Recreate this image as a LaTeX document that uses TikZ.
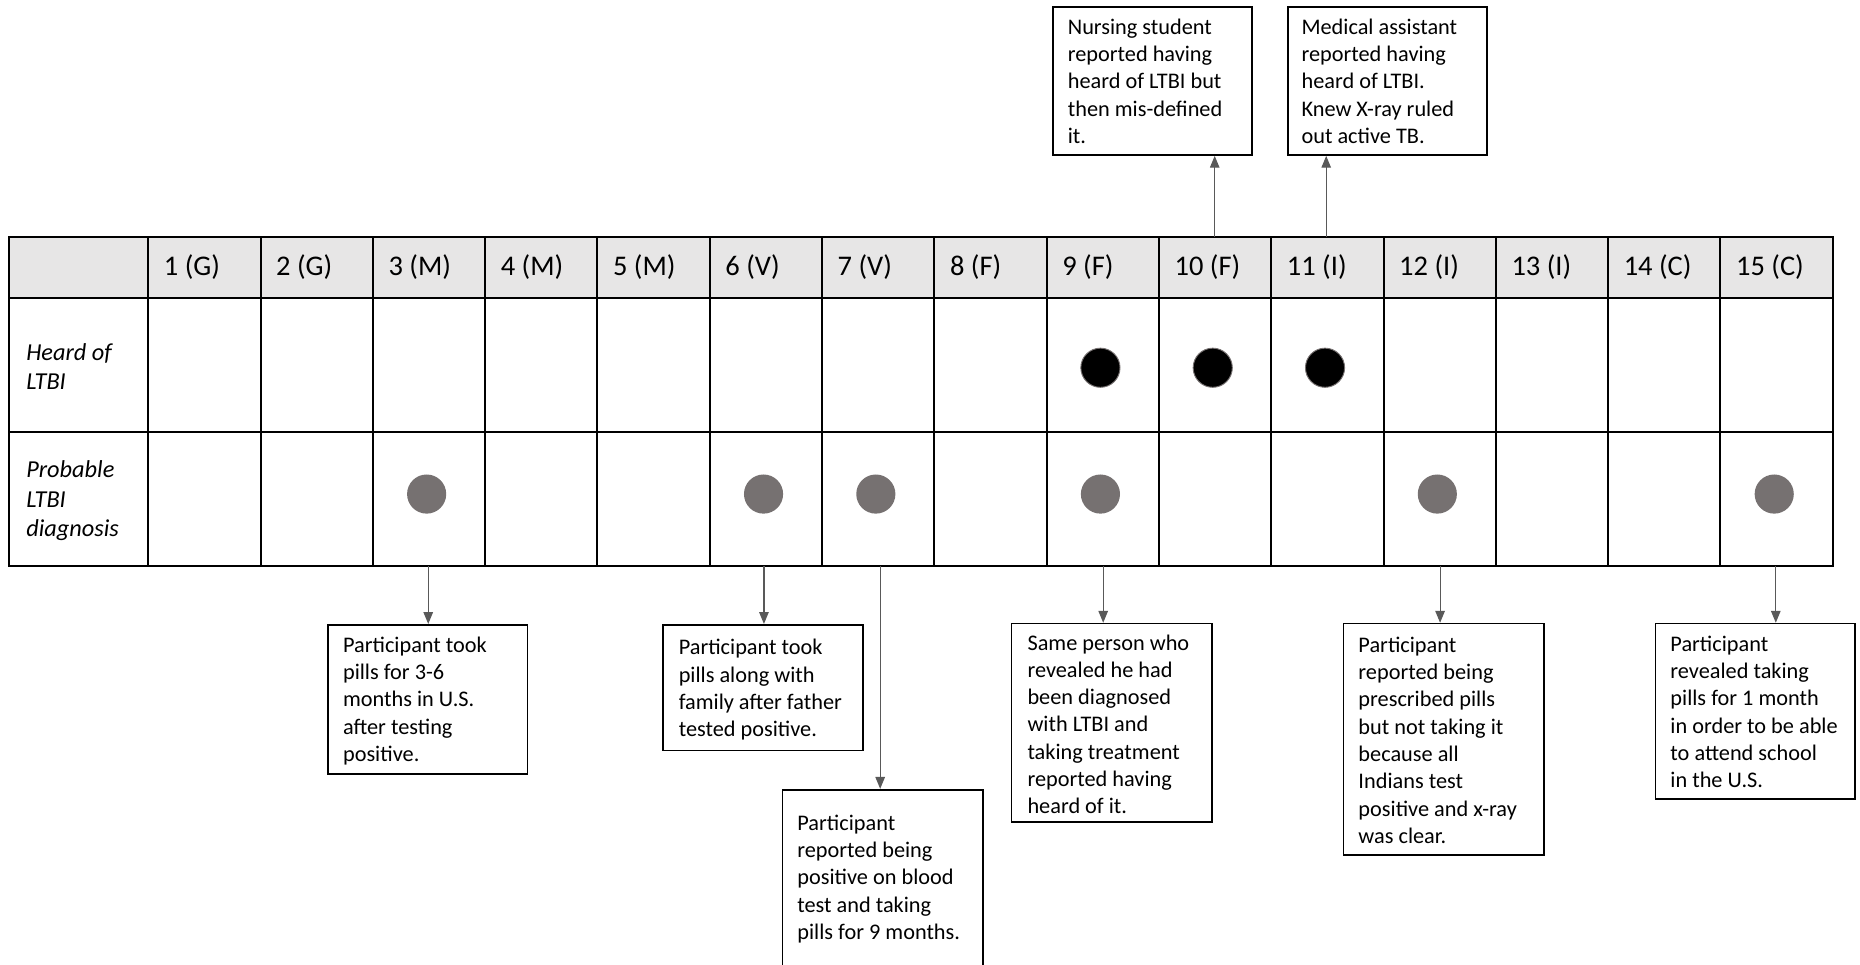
\documentclass[tikz,border=0pt]{standalone}
\usepackage{fontspec}
\setmainfont{Carlito}
\usetikzlibrary{arrows.meta}
\definecolor{hdrgray}{HTML}{E7E6E6}
\definecolor{dotgray}{HTML}{767171}
\definecolor{conngray}{HTML}{595959}
\newcommand{\annotlines}[1]{\parbox[t]{220pt}{\raggedright #1}}
\begin{document}
\begin{tikzpicture}[x=1pt,y=-1pt,
  gridline/.style={line width=1.7pt,black},
  annot/.style={draw=black,line width=1.4pt,fill=white,inner sep=0pt,anchor=north west},
  annottext/.style={anchor=base west,inner sep=0pt,font=\fontsize{18.8}{23}\selectfont},
  hdr/.style={anchor=base west,inner sep=0pt,font=\fontsize{24}{29}\selectfont},
  rowlab/.style={anchor=base west,inner sep=0pt,font=\fontsize{20.5}{25}\selectfont\itshape},
  conn/.style={draw=conngray,line width=1pt,-{Triangle[width=8pt,length=10pt]}},
  heardot/.style={circle,fill=black,draw=dotgray,line width=0.8pt,minimum size=33pt,inner sep=0pt},
  diagdot/.style={circle,fill=dotgray,minimum size=33pt,inner sep=0pt},
]
\useasboundingbox (0,0) rectangle (1568,813);
% table
\fill[hdrgray] (8,200) rectangle (1545,251);
\foreach \yy in {251,364} \draw[gridline] (8,\yy) -- (1545,\yy);
\foreach \k in {0,...,14} \draw[gridline] ({125+94.667*\k},200) -- ({125+94.667*\k},477);
\draw[gridline,line join=miter] (8,200) rectangle (1545,477);
% header labels
\foreach \k/\t in {1/1 (G),2/2 (G),3/3 (M),4/4 (M),5/5 (M),6/6 (V),7/7 (V),8/8 (F),9/9 (F),10/10 (F),11/11 (I),12/12 (I),13/13 (I),14/14 (C),15/15 (C)}
  \node[hdr] (h\k) at ({125+94.667*(\k-1)+13},232) {\t};
\node[rowlab] (rheard) at (22,303.5) {\parbox[t]{100pt}{\raggedright Heard of\\LTBI}};
\node[rowlab] (rdiag) at (22,402.5) {\parbox[t]{100pt}{\raggedright Probable\\LTBI\\diagnosis}};
% dots
\foreach \k in {9,10,11} \node[heardot] (hd\k) at ({125+94.667*(\k-0.5)-2},310) {};
\foreach \k in {3,6,7,9,12,15} \node[diagdot] (dd\k) at ({125+94.667*(\k-0.5)-2},416.5) {};
% arrow start points
\coordinate (t10) at (1024,200);
\coordinate (t11) at (1118,200);
\coordinate (s3) at (361,477);
\coordinate (s6) at (644,477);
\coordinate (s7) at (742,477);
\coordinate (s9) at (930,477);
\coordinate (s12) at (1214,477);
\coordinate (s15) at (1497,477);
% boxes
\node[annot,minimum width=168pt,minimum height=125pt] (bA) at (887,5) {};
\node[annot,minimum width=168pt,minimum height=125pt] (bB) at (1085,5) {};
\node[annot,minimum width=168pt,minimum height=126pt] (b3) at (276,526) {};
\node[annot,minimum width=169pt,minimum height=106pt] (b6) at (558,526) {};
\node[annot,minimum width=169pt,minimum height=170pt] (b7) at (659,665) {};
\node[annot,minimum width=169pt,minimum height=167pt] (b9) at (852,525) {};
\node[annot,minimum width=169pt,minimum height=195pt] (b12) at (1132,525) {};
\node[annot,minimum width=168pt,minimum height=148pt] (b15) at (1395,525) {};
% texts
\node[annottext] (tA) at (900,29) {\annotlines{Nursing student\\reported having\\heard of LTBI but\\then mis-defined\\it.}};
\node[annottext] (tB) at (1097,29) {\annotlines{Medical assistant\\reported having\\heard of LTBI.\\Knew X-ray ruled\\out active TB.}};
\node[annottext] (t3) at (289,550) {\annotlines{Participant took\\pills for 3-6\\months in U.S.\\after testing\\positive.}};
\node[annottext] (t6) at (572,552) {\annotlines{Participant took\\pills along with\\family after father\\tested positive.}};
\node[annottext] (t7) at (672,700) {\annotlines{Participant\\reported being\\positive on blood\\test and taking\\pills for 9 months.}};
\node[annottext] (t9) at (866,548) {\annotlines{Same person who\\revealed he had\\been diagnosed\\with LTBI and\\taking treatment\\reported having\\heard of it.}};
\node[annottext] (t12) at (1145,550) {\annotlines{Participant\\reported being\\prescribed pills\\but not taking it\\because all\\Indians test\\positive and x-ray\\was clear.}};
\node[annottext] (t15) at (1408,549) {\annotlines{Participant\\revealed taking\\pills for 1 month\\in order to be able\\to attend school\\in the U.S.}};
% connectors
\draw[conn] (t10) -- (t10 |- bA.south);
\draw[conn] (t11) -- (t11 |- bB.south);
\draw[conn] (s3) -- (s3 |- b3.north);
\draw[conn] (s6) -- (s6 |- b6.north);
\draw[conn] (s7) -- (s7 |- b7.north);
\draw[conn] (s9) -- (s9 |- b9.north);
\draw[conn] (s12) -- (s12 |- b12.north);
\draw[conn] (s15) -- (s15 |- b15.north);
\end{tikzpicture}
\end{document}
